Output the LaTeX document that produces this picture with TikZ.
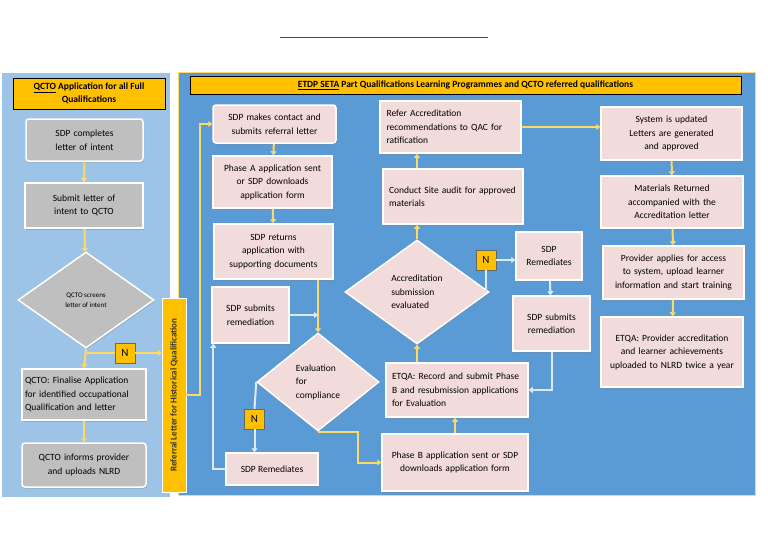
\documentclass[tikz,border=0pt]{standalone}
\usepackage{fontspec}
\setmainfont{Carlito}
\usetikzlibrary{arrows.meta,shapes.geometric,shadows}

\definecolor{paleblue}{HTML}{9DC3E6}
\definecolor{midblue}{HTML}{5B9BD5}
\definecolor{gold}{HTML}{FFC000}
\definecolor{flow}{HTML}{FFD966}
\definecolor{loop}{HTML}{DEEBF7}
\definecolor{pink}{HTML}{F2DCDB}
\definecolor{greybox}{HTML}{BFBFBF}

\newcommand{\boxfont}{\fontsize{9.5}{13.5}\selectfont\hyphenpenalty=10000\exhyphenpenalty=10000}

\tikzset{
    stage/.style={rectangle, draw=white, line width=1.5pt, fill=pink, font=\boxfont,
        align=center, inner sep=2pt, drop shadow={opacity=0.35,shadow xshift=1pt,shadow yshift=-1.5pt}},
    greystage/.style={stage, fill=greybox, rounded corners=3pt},
    decide/.style={diamond, draw=white, line width=1.5pt, fill=pink, font=\boxfont,
        inner sep=0pt, drop shadow={opacity=0.35,shadow xshift=1pt,shadow yshift=-1.5pt}},
    nmark/.style={rectangle, draw=black!60, fill=gold, minimum width=20pt, minimum height=20pt,
        font=\fontsize{11}{12}\selectfont, inner sep=0pt},
    flowarrow/.style={draw=flow, line width=2pt, -{Triangle[width=6pt,length=4pt]}},
    looparrow/.style={draw=loop, line width=2pt, -{Triangle[width=6pt,length=4pt]}},
}

\begin{document}
\begin{tikzpicture}[x=1pt,y=-1pt]
    \useasboundingbox (0,0) rectangle (768,543);

    % rule at the top
    \draw[black!70] (280,37) -- (488,37);

    % panels
    \fill[paleblue] (2,73) rectangle (170,497);
    \filldraw[fill=midblue,draw=gold!60] (178,72) rectangle (755,495);
    \node[draw, fill=gold, minimum width=152pt, minimum height=31pt, align=center, inner sep=1pt,
        font=\fontsize{9.5}{12.5}\selectfont\bfseries] (lefthead) at (89,93.5)
        {\underline{QCTO} Application for all Full\\Qualifications};
    \node[draw, fill=gold, minimum width=551pt, minimum height=18pt, inner sep=1pt,
        font=\fontsize{9.5}{11}\selectfont\bfseries] (righthead) at (465.5,85)
        {\underline{ETDP SETA} Part Qualifications Learning Programmes and QCTO referred qualifications};

    % QCTO column
    \node[greystage, minimum width=117pt, minimum height=42pt, text width=104pt] (letter) at (84.5,140) {SDP completes letter of intent};
    \node[greystage, rounded corners=0pt, minimum width=118pt, minimum height=45pt, text width=108pt] (submit) at (84,205.5) {Submit letter of intent to QCTO};
    \node[decide, fill=greybox, minimum width=136pt, minimum height=96pt, font=\fontsize{7}{10}\selectfont, align=center] (screen) at (86,300) {QCTO screens\\letter of intent};
    \node[nmark] (nleft) at (125,353) {N};
    \node[greystage, rounded corners=0pt, minimum width=124pt, minimum height=51pt, text width=118pt, align=left] (finalise) at (84,394.5) {QCTO: Finalise Application for identified occupational Qualification and letter};
    \node[greystage, minimum width=124pt, minimum height=44pt, text width=100pt] (inform) at (84,465) {QCTO informs provider and uploads NLRD};

    % referral bar
    \node[draw=white, fill=gold, minimum width=24pt, minimum height=194pt] (referral) at (174,395) {};
    \node[rotate=90, font=\fontsize{9}{10}\selectfont\bfseries, text=black!80] (referraltext) at (referral.center) {Referral Letter for Historical Qualification};

    % first ETDP column
    \node[stage, minimum width=123pt, minimum height=38pt, text width=110pt, rounded corners=3pt] (contact) at (274.5,124) {SDP makes contact and submits referral letter};
    \node[stage, minimum width=119pt, minimum height=52pt, text width=106pt] (phasea) at (272.5,182) {Phase A application sent or SDP downloads application form};
    \node[stage, minimum width=119pt, minimum height=55pt, text width=100pt] (returns) at (273.5,251.5) {SDP returns application with supporting documents};
    \node[stage, minimum width=77pt, minimum height=56pt, text width=68pt] (resubmit) at (250.5,315) {SDP submits remediation};
    \node[decide, minimum width=122pt, minimum height=98pt, align=left] (comply) at (318,382) {Evaluation\\for\\compliance};
    \node[nmark] (ncomply) at (254.5,419) {N};
    \node[stage, minimum width=92pt, minimum height=32pt] (remedy) at (272,469) {SDP Remediates};

    % second ETDP column
    \node[stage, minimum width=141pt, minimum height=52pt, text width=128pt, align=left] (refer) at (450.5,127) {Refer Accreditation recommendations to QAC for ratification};
    \node[stage, minimum width=140pt, minimum height=55pt, text width=128pt, align=left] (audit) at (453,196.5) {Conduct Site audit for approved materials\\[13pt]};
    \node[decide, minimum width=144pt, minimum height=104pt, align=left] (accredit) at (417,292) {Accreditation\\submission\\evaluated};
    \node[nmark] (naccredit) at (486,260) {N};
    \node[stage, minimum width=66pt, minimum height=48pt, text width=60pt] (remedyb) at (549,256) {SDP\\Remediates};
    \node[stage, minimum width=77pt, minimum height=55pt, text width=68pt] (resubmitb) at (551.5,323.5) {SDP submits remediation};
    \node[stage, minimum width=142pt, minimum height=54pt, text width=130pt, align=left] (record) at (457,390) {ETQA: Record and submit Phase B and resubmission applications for Evaluation};
    \node[stage, minimum width=146pt, minimum height=57pt, text width=138pt] (phaseb) at (455,462.5) {Phase B application sent or SDP downloads application form\\[13pt]};

    % third ETDP column
    \node[stage, minimum width=141pt, minimum height=53pt, text width=130pt] (update) at (671.5,133.5) {System is updated\\Letters are generated and approved};
    \node[stage, minimum width=142pt, minimum height=52pt, text width=118pt] (returned) at (672,202) {Materials Returned accompanied with the Accreditation letter};
    \node[stage, minimum width=141pt, minimum height=53pt, text width=136pt] (access) at (673.5,272.5) {Provider applies for access to system, upload learner information and start training};
    \node[stage, minimum width=142pt, minimum height=70pt, text width=134pt] (upload) at (672,352) {ETQA: Provider accreditation and learner achievements uploaded to NLRD twice a year};

    % QCTO flow
    \draw[flowarrow] (letter) -- (submit);
    \draw[flowarrow] (submit) -- (screen);
    \draw[flowarrow] (screen.south) -- (finalise.north);
    \draw[draw=flow, line width=2pt] (nleft.west) -- (nleft.west -| screen.south);
    \draw[flowarrow] (nleft.east) -- (nleft.east -| referral.west);
    \draw[flowarrow] (finalise) -- (inform);
    \draw[flowarrow] (referral.east) -- ++(14,0) |- (contact.west);

    % first column flow
    \draw[flowarrow] (contact) -- (phasea);
    \draw[flowarrow] (phasea) -- (returns);
    \draw[flowarrow] (returns.south -| comply.north) -- (comply.north);
    \draw[looparrow] (resubmit.east) -- (resubmit.east -| comply.north);
    \draw[draw=loop, line width=2pt] (comply.west) -- (ncomply.north);
    \draw[looparrow] (ncomply.south) -- (ncomply.south |- remedy.north);
    \draw[looparrow] (remedy.west) -- ++(-12,0) coordinate (turn) -- (turn |- resubmit.south);
    \draw[flowarrow] (comply.south) -- ++(40,0) |- (phaseb.west);

    % second column flow
    \draw[flowarrow] (phaseb.north) -- (phaseb.north |- record.south);
    \draw[flowarrow] (accredit.south |- record.north) -- (accredit.south);
    \draw[flowarrow] (accredit.north) -- (accredit.north |- audit.south);
    \draw[flowarrow] (accredit.north |- audit.north) -- (accredit.north |- refer.south);
    \draw[draw=loop, line width=2pt] (naccredit.south |- accredit.east) -- (naccredit.south);
    \draw[looparrow] (naccredit.east) -- (naccredit.east -| remedyb.west);
    \draw[looparrow] (remedyb) -- (resubmitb);
    \draw[looparrow] (resubmitb.south) |- (record.east);
    \draw[flowarrow] (refer.east) -- (refer.east -| update.west);

    % third column flow
    \draw[flowarrow] (update) -- (returned);
    \draw[flowarrow] (returned) -- (access);
    \draw[flowarrow] (access) -- (upload);
\end{tikzpicture}
\end{document}
